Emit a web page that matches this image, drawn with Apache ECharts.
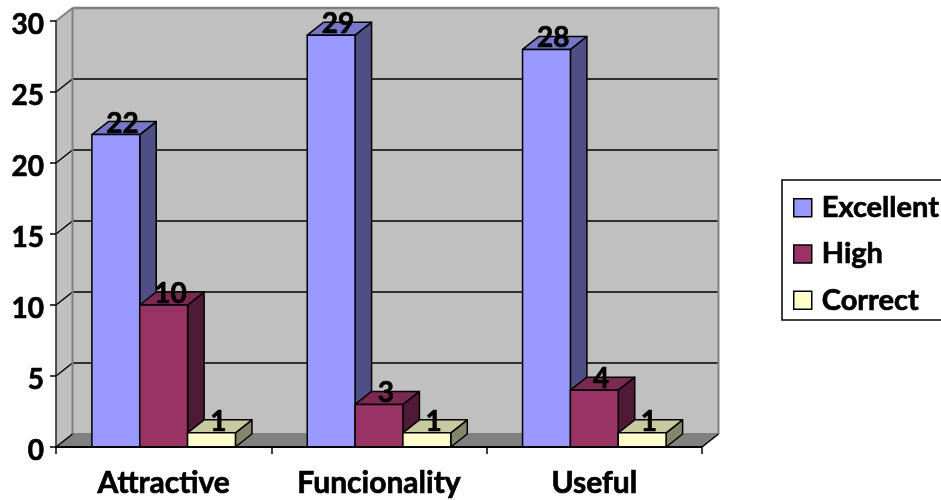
<!DOCTYPE html>
<html>
<head>
<meta charset="utf-8">
<style>html,body{margin:0;padding:0;background:#fff}#c{width:941px;height:500px}</style>
<script src="https://cdn.jsdelivr.net/npm/echarts@6/dist/echarts.min.js"></script>
</head>
<body>
<div id="c"></div>
<script>
// Chart values
const categories = ['Attractive', 'Funcionality', 'Useful'];
const excellent = [22, 29, 28];
const high = [10, 3, 4];
const correct = [1, 1, 1];
const yTicks = [0, 5, 10, 15, 20, 25, 30];

// Oblique projection used for the pseudo-3D box
const DX = 16.5, DY = -13;
const palette = [
  { name: 'Excellent', values: excellent, front: '#9999FF', side: '#4F4F85', top: '#7777C8' },
  { name: 'High', values: high, front: '#993366', side: '#4F1A35', top: '#7A2952' },
  { name: 'Correct', values: correct, front: '#FFFFCC', side: '#858569', top: '#C9C9A0' }
];
// Slight outline thickens the bold face
const heavy = { color: '#000', fontFamily: 'Lato', fontWeight: 'bold', textBorderColor: '#000', textBorderWidth: 0.7 };

function poly(points, fill, stroke, lineWidth) {
  return {
    type: 'polygon',
    shape: { points },
    style: { fill, stroke: stroke || null, lineWidth: lineWidth || 0, lineJoin: 'round' }
  };
}
function seg(a, b, stroke, lineWidth) {
  return {
    type: 'line',
    shape: { x1: a[0], y1: a[1], x2: b[0], y2: b[1] },
    style: { stroke, lineWidth }
  };
}

// Floor, side wall, back wall and the gridlines wrapped over both walls
function renderRoom(params, api) {
  const n = categories.length;
  const band = api.size([1, 0])[0];
  const p = (v) => api.coord([0, v]);
  const x0 = p(0)[0] - band / 2, x1 = x0 + band * n;
  const y0 = p(0)[1], yT = p(30)[1];
  const children = [
    poly([[x0, y0], [x0 + DX, y0 + DY], [x0 + DX, yT + DY], [x0, yT]], '#C0C0C0'),
    poly([[x0 + DX, y0 + DY], [x1 + DX, y0 + DY], [x1 + DX, yT + DY], [x0 + DX, yT + DY]], '#C0C0C0'),
    poly([[x0, y0], [x1, y0], [x1 + DX, y0 + DY], [x0 + DX, y0 + DY]], '#808080')
  ];
  yTicks.forEach((t) => {
    if (t === 0 || t === 30) return;
    const y = p(t)[1];
    children.push(seg([x0, y], [x0 + DX, y + DY], '#000', 1.5));
    children.push(seg([x0 + DX, y + DY], [x1 + DX, y + DY], '#000', 1.5));
  });
  children.push(seg([x0, yT], [x0 + DX, yT + DY], '#808080', 2));
  children.push(seg([x0 + DX, yT + DY], [x1 + DX, yT + DY], '#808080', 2.5));
  children.push(seg([x0 + DX, yT + DY], [x0 + DX, y0 + DY], '#808080', 2));
  children.push(seg([x1 + DX, yT + DY], [x1 + DX, y0 + DY], '#808080', 2));
  children.push(seg([x0 + DX, y0 + DY], [x1 + DX, y0 + DY], '#808080', 2));
  children.push(seg([x1, y0], [x1 + DX, y0 + DY], '#000', 1.5));
  children.push(seg([x0, y0], [x0 + DX, y0 + DY], '#000', 1.5));
  return { type: 'group', children };
}

// One clustered box with its value above the back edge of the top face
function boxRenderer(idx) {
  return function (params, api) {
    const c = api.value(0), v = api.value(1);
    const band = api.size([1, 0])[0];
    const w = band / 4.5;
    const top = api.coord([c, v]);
    const base = api.coord([c, 0]);
    const l = top[0] + (idx - 1.5) * w, r = l + w;
    const yt = top[1], yb = base[1];
    const s = palette[idx];
    const border = '#000', lw = 1.5;
    return {
      type: 'group',
      children: [
        poly([[r, yb], [r + DX, yb + DY], [r + DX, yt + DY], [r, yt]], s.side, border, lw),
        poly([[l, yt], [r, yt], [r + DX, yt + DY], [l + DX, yt + DY]], s.top, border, lw),
        poly([[l, yt], [r, yt], [r, yb], [l, yb]], s.front, border, lw),
        {
          type: 'text',
          style: {
            text: String(v), x: (l + r) / 2 + DX / 2 - 1.5, y: yt + DY + 2,
            align: 'center', verticalAlign: 'middle',
            font: 'bold 28px Lato, sans-serif', fill: '#000',
            stroke: '#000', lineWidth: 0.7
          }
        }
      ]
    };
  };
}

const chart = echarts.init(document.getElementById('c'), null, { renderer: 'canvas' });
chart.setOption({
  animation: false,
  backgroundColor: '#fff',
  grid: { left: 56, top: 21, width: 646, height: 426, containLabel: false },
  xAxis: {
    type: 'category', data: categories, z: 5,
    axisLine: { lineStyle: { color: '#000', width: 2 } },
    axisTick: { show: true, alignWithLabel: false, length: 7, lineStyle: { color: '#000', width: 1.5 } },
    axisLabel: Object.assign({}, heavy, { fontSize: 30, margin: 21, interval: 0 }),
    splitLine: { show: false }
  },
  yAxis: {
    type: 'value', min: 0, max: 30, interval: 5, z: 5,
    axisLine: { show: true, lineStyle: { color: '#222', width: 1.5 } },
    axisTick: { show: true, length: 6, lineStyle: { color: '#000', width: 1.5 } },
    axisLabel: Object.assign({}, heavy, { fontSize: 28, margin: 12, verticalAlign: 'top', lineHeight: 7 }),
    splitLine: { show: false }
  },
  legend: {
    orient: 'vertical', left: 782, top: 180,
    padding: [13, 14, 5, 11],
    itemWidth: 18, itemHeight: 18, itemGap: 16.5,
    backgroundColor: '#fff', borderColor: '#000', borderWidth: 1.5, borderRadius: 0,
    icon: 'rect',
    itemStyle: { borderColor: '#000', borderWidth: 1.5 },
    textStyle: Object.assign({}, heavy, { fontSize: 29, padding: [0, 0, 0, 5] }),
    data: palette.map((s) => s.name),
    selectedMode: false
  },
  series: [
    { type: 'custom', name: 'room', z: 1, silent: true, clip: false, renderItem: renderRoom, data: [[0, 0]], encode: { x: 0, y: 1 } }
  ].concat(palette.map((s, i) => ({
    type: 'custom', name: s.name, z: 2 + i, silent: true, clip: false,
    itemStyle: { color: s.front },
    renderItem: boxRenderer(i),
    encode: { x: 0, y: 1 },
    data: s.values.map((v, k) => [k, v])
  })))
});
</script>
</body>
</html>
